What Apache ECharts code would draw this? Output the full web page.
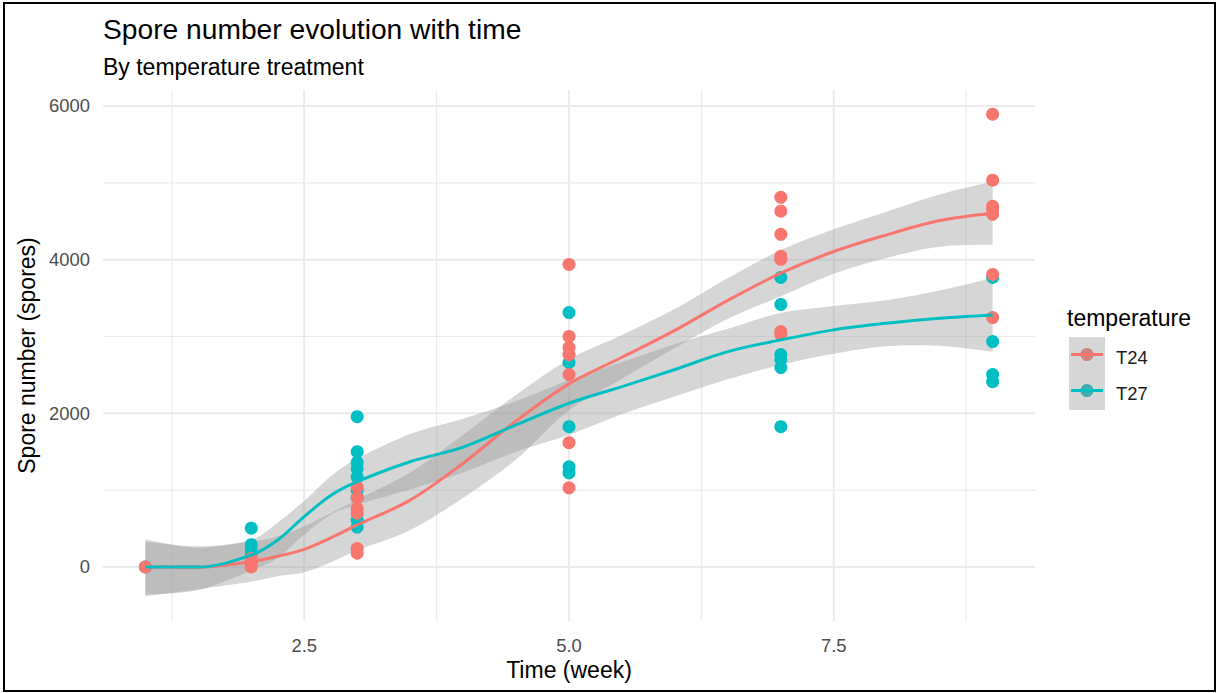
<!DOCTYPE html>
<html>
<head>
<meta charset="utf-8">
<script src="https://cdn.jsdelivr.net/npm/echarts@6/dist/echarts.min.js"></script>
<style>
  html, body { margin: 0; padding: 0; background: #fff; }
  #chart { position: absolute; left: 0; top: 0; width: 1217px; height: 693px; }
  #frame { position: absolute; left: 3px; top: 2px; width: 1209px; height: 686px; border: 2px solid #000; pointer-events: none; }
</style>
</head>
<body>
<div id="chart"></div>
<div id="frame"></div>
<script>
// Observed spore counts per week, by temperature treatment
const t24Week   = [1, 2, 2, 2, 3, 3, 3, 3, 3, 3, 5, 5, 5, 5, 5, 5, 5, 7, 7, 7, 7, 7, 7, 7, 9, 9, 9, 9, 9, 9, 9];
const t24Spores = [0, 110, 40, 0, 1040, 900, 760, 700, 240, 180, 3938, 3000, 2856, 2765, 2504, 1617, 1030,
                   4812, 4630, 4330, 4043, 4004, 3064, 3025, 5894, 5034, 4694, 4655, 4590, 3808, 3247];
const t27Week   = [1, 2, 2, 2, 2, 3, 3, 3, 3, 3, 3, 3, 3, 3, 5, 5, 5, 5, 5, 7, 7, 7, 7, 7, 7, 9, 9, 9, 9];
const t27Spores = [0, 505, 290, 220, 160, 1956, 1500, 1360, 1280, 1170, 1000, 900, 610, 520,
                   3312, 2660, 1826, 1304, 1226, 3769, 3417, 2765, 2700, 2595, 1826, 3769, 2934, 2504, 2412];

// Loess fits with confidence bands, evaluated along the week axis
const fitWeek  = [1, 1.5, 2, 2.25, 2.5, 2.75, 3, 3.5, 4, 4.5, 5, 5.5, 6, 6.5, 7, 7.5, 8, 8.5, 9];
const t24Fit   = [0, -5, 70, 140, 230, 380, 547, 870, 1350, 1900, 2383, 2730, 3080, 3470, 3824, 4106, 4323, 4509, 4605];
const t24Lower = [-380, -290, -190, -120, -70, 60, 217, 480, 900, 1400, 2040, 2450, 2850, 3230, 3524, 3816, 4023, 4169, 4195];
const t24Upper = [330, 270, 330, 400, 530, 700, 877, 1230, 1720, 2240, 2703, 3020, 3360, 3760, 4124, 4396, 4623, 4849, 5015];
const t27Fit   = [0, 0, 156, 352, 655, 930, 1110, 1370, 1560, 1849, 2131, 2348, 2570, 2803, 2956, 3086, 3173, 3238, 3281];
const t27Lower = [-360, -300, -45, 120, 420, 680, 810, 1010, 1230, 1500, 1720, 1990, 2220, 2443, 2630, 2776, 2873, 2878, 2801];
const t27Upper = [360, 250, 357, 580, 860, 1180, 1410, 1730, 1930, 2159, 2431, 2668, 2900, 3100, 3306, 3396, 3473, 3598, 3761];

// Axis ticks and grid lines
const xTicks = [2.5, 5.0, 7.5];
const xMinor = [1.25, 3.75, 6.25, 8.75];
const yTicks = [0, 2000, 4000, 6000];
const yMinor = [1000, 3000, 5000];

const groups = ['T24', 'T27'];
const colors = { T24: '#F8766D', T27: '#00BFC4' };
const FONT = '"Liberation Sans", Arial, sans-serif';
const BAND_FILL = 'rgba(153,153,153,0.4)';

const zip = (a, b) => a.map((v, i) => [v, b[i]]);

function gridSeries(values, vertical, width) {
  return {
    type: 'custom', silent: true, z: 1,
    data: values.map(v => [v, v]),
    encode: vertical ? { x: 0 } : { y: 1 },
    renderItem: (params, api) => {
      const cs = params.coordSys;
      if (vertical) {
        const x = api.coord([api.value(0), 0])[0];
        return { type: 'line', shape: { x1: x, y1: cs.y, x2: x, y2: cs.y + cs.height },
                 style: { stroke: '#EBEBEB', lineWidth: width } };
      }
      const y = api.coord([1, api.value(1)])[1];
      return { type: 'line', shape: { x1: cs.x, y1: y, x2: cs.x + cs.width, y2: y },
               style: { stroke: '#EBEBEB', lineWidth: width } };
    }
  };
}

// Smooth an edge in pixel space (Catmull-Rom) so the band outline follows a curve
function smoothEdge(pts, steps) {
  const out = [];
  const n = pts.length;
  for (let i = 0; i < n - 1; i++) {
    const p0 = pts[Math.max(i - 1, 0)], p1 = pts[i], p2 = pts[i + 1], p3 = pts[Math.min(i + 2, n - 1)];
    for (let s = 0; s < steps; s++) {
      const t = s / steps, t2 = t * t, t3 = t2 * t;
      const f = k => 0.5 * ((2 * p1[k]) + (-p0[k] + p2[k]) * t +
        (2 * p0[k] - 5 * p1[k] + 4 * p2[k] - p3[k]) * t2 + (-p0[k] + 3 * p1[k] - 3 * p2[k] + p3[k]) * t3);
      out.push([f(0), f(1)]);
    }
  }
  out.push(pts[n - 1]);
  return out;
}

// Confidence band drawn as one filled outline between its lower and upper edges
function bandSeries(lower, upper) {
  return {
    type: 'custom', silent: true,
    data: fitWeek.map((w, i) => [w, lower[i], upper[i]]),
    encode: { x: 0, y: [1, 2] },
    renderItem: (params, api) => {
      if (params.dataIndex !== 0) return null;
      const up = smoothEdge(fitWeek.map((w, i) => api.coord([w, upper[i]])), 12);
      const lo = smoothEdge(fitWeek.map((w, i) => api.coord([w, lower[i]])), 12).reverse();
      return { type: 'polygon', shape: { points: up.concat(lo) },
               style: { fill: BAND_FILL } };
    }
  };
}

function pointSeries(name, weeks, spores) {
  return {
    name, type: 'scatter', symbol: 'circle', symbolSize: 13,
    data: zip(weeks, spores),
    itemStyle: { color: colors[name], opacity: 1 },
    silent: true
  };
}

function fitSeries(name, fit) {
  return {
    name, type: 'line', data: zip(fitWeek, fit), smooth: 0.35,
    showSymbol: false, silent: true,
    lineStyle: { color: colors[name], width: 3 }
  };
}

const chart = echarts.init(document.getElementById('chart'), null, { renderer: 'svg' });

// Legend drawn as key box + labels at the right of the panel
const legendX = 1069, legendRows = [354.5, 390.5], legendText = [357, 393];
const legendGraphics = [
  { type: 'text', x: 1067, y: 318, style: { text: 'temperature', font: '23px ' + FONT, fill: '#000', verticalAlign: 'middle' } }
];
groups.forEach((g, i) => {
  legendGraphics.push({ type: 'circle', shape: { cx: legendX + 18, cy: legendRows[i], r: 6.5 }, style: { fill: colors[g] } });
});
legendGraphics.push({ type: 'rect', shape: { x: legendX, y: 337, width: 36, height: 73 }, style: { fill: BAND_FILL } });
groups.forEach((g, i) => {
  legendGraphics.push({ type: 'line', shape: { x1: legendX + 2, y1: legendRows[i], x2: legendX + 34, y2: legendRows[i] },
                        style: { stroke: colors[g], lineWidth: 3 } });
  legendGraphics.push({ type: 'text', x: 1116, y: legendText[i],
                        style: { text: g, font: '18.4px ' + FONT, fill: '#1A1A1A', verticalAlign: 'middle' } });
});

chart.setOption({
  animation: false,
  backgroundColor: '#fff',
  textStyle: { fontFamily: FONT },
  title: {
    text: 'Spore number evolution with time',
    subtext: 'By temperature treatment',
    left: 103, top: 15, padding: 0, itemGap: 12,
    textStyle: { fontSize: 28.2, fontWeight: 'normal', color: '#000', fontFamily: FONT },
    subtextStyle: { fontSize: 23, color: '#000', fontFamily: FONT }
  },
  grid: { left: 103, right: 182, top: 90, bottom: 72, containLabel: false },
  xAxis: {
    type: 'value', min: 0.6, max: 9.4,
    name: 'Time (week)', nameLocation: 'middle', nameGap: 36,
    nameTextStyle: { fontSize: 23, color: '#000', fontFamily: FONT },
    axisLine: { show: false }, axisTick: { show: false }, splitLine: { show: false },
    axisLabel: { customValues: xTicks, formatter: v => v.toFixed(1), color: '#4D4D4D', fontSize: 18.4, margin: 15, fontFamily: FONT }
  },
  yAxis: {
    type: 'value', min: -703, max: 6208,
    name: 'Spore number (spores)', nameLocation: 'middle', nameGap: 57,
    nameTextStyle: { fontSize: 23, color: '#000', fontFamily: FONT },
    axisLine: { show: false }, axisTick: { show: false }, splitLine: { show: false },
    axisLabel: { customValues: yTicks, formatter: v => String(v), color: '#4D4D4D', fontSize: 18.4, margin: 13, fontFamily: FONT }
  },
  graphic: legendGraphics,
  series: [
    gridSeries(xMinor, true, 1.2),
    gridSeries(yMinor, false, 1.2),
    gridSeries(xTicks, true, 2),
    gridSeries(yTicks, false, 2),
    pointSeries('T27', t27Week, t27Spores),
    pointSeries('T24', t24Week, t24Spores),
    bandSeries(t24Lower, t24Upper),
    fitSeries('T24', t24Fit),
    bandSeries(t27Lower, t27Upper),
    fitSeries('T27', t27Fit)
  ]
});
</script>
</body>
</html>
